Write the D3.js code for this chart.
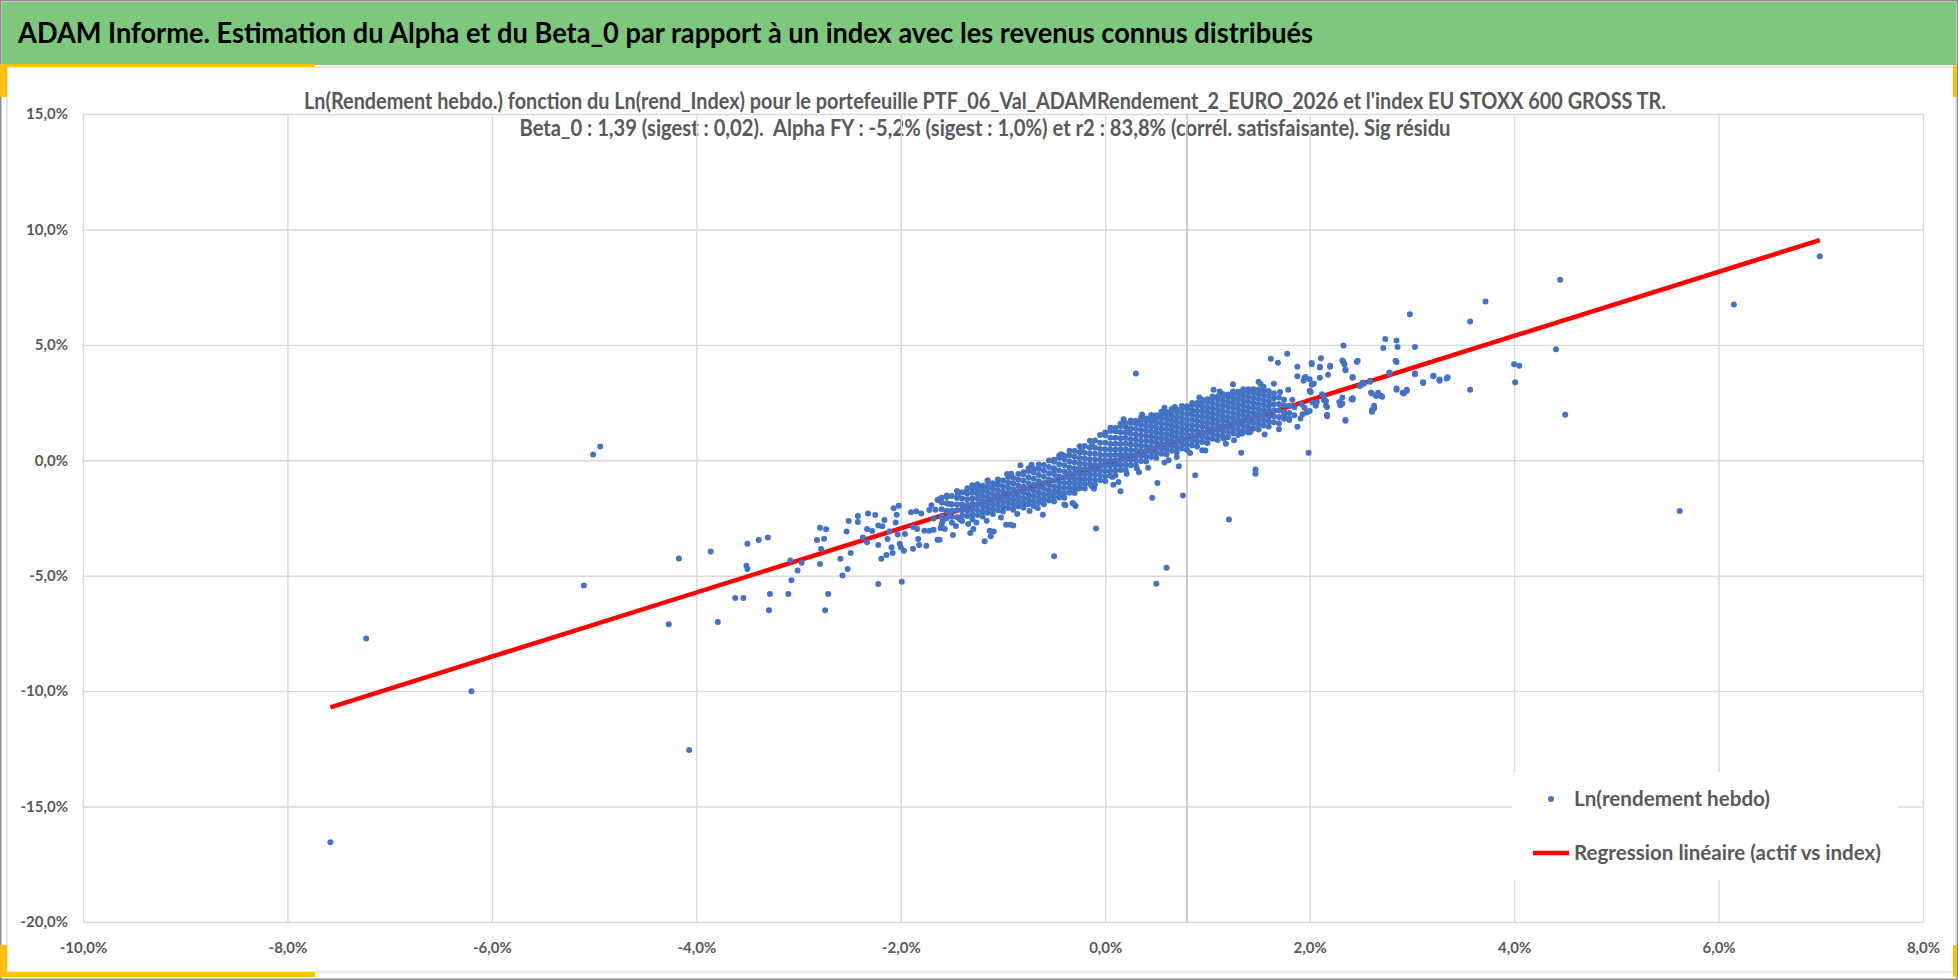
<!DOCTYPE html>
<html>
<head>
<meta charset="utf-8">
<script src="https://cdn.jsdelivr.net/npm/d3@7"></script>
<style>
  body { margin: 0; background: #fff; }
  svg { display: block; }
  text { font-family: Lato, "Open Sans", sans-serif; white-space: pre; }
</style>
</head>
<body>
<svg id="chart"></svg>
<script>
const width = 1958;
const height = 980;

const mainTitle = "ADAM Informe. Estimation du Alpha et du Beta_0 par rapport à un index avec les revenus connus distribués";
const chartTitle = [
  "Ln(Rendement hebdo.) fonction du Ln(rend_Index) pour le portefeuille PTF_06_Val_ADAMRendement_2_EURO_2026 et l'index EU STOXX 600 GROSS TR.",
  "Beta_0 : 1,39 (sigest : 0,02).  Alpha FY : -5,2% (sigest : 1,0%) et r2 : 83,8% (corrél. satisfaisante). Sig résidu"
];
const legendLabels = ["Ln(rendement hebdo)", "Regression linéaire (actif vs index)"];

const xTicks = [-10, -8, -6, -4, -2, 0, 2, 4, 6, 8];
const yTicks = [-20, -15, -10, -5, 0, 5, 10, 15];
const axisCross = 0.8;

// regression line ends (x %, y %)
const regression = [[-7.58, -10.7], [6.99, 9.54]];

// isolated weeks
const outliers = [
  [-7.58,-16.55],[-7.23,-7.72],[-6.2,-10.0],[-5.01,0.25],[-4.94,0.6],[-5.1,-5.42],
  [-4.07,-12.55],[-4.17,-4.25],[-4.27,-7.1],[6.99,8.84],[6.15,6.75],[5.62,-2.2],
  [4.45,7.82],[4.41,4.81],[4.5,1.97],[0.5,-5.35],[0.6,-4.65],[0.3,3.76]
];

// scattered weeks, lower left part
const scatterLow = [
  [-3.86,-3.95],[-3.79,-7.01],[-3.5,-3.61],[-3.39,-3.45],[-3.3,-3.35],[-3.51,-4.57],[-3.5,-4.71],
  [-3.62,-5.97],[-3.54,-5.97],[-3.28,-5.79],[-3.29,-6.5],[-3.1,-5.79],[-3.07,-5.2],[-3.01,-4.77],
  [-3.08,-4.34],[-2.97,-4.44],[-2.79,-4.49],[-2.78,-3.84],[-2.82,-3.45],[-2.75,-3.4],[-2.79,-2.92],
  [-2.73,-2.99],[-2.74,-6.5],[-2.71,-5.79],[-2.59,-4.26],[-2.57,-4.99],[-2.52,-4.71],[-2.49,-4.02],
  [-2.53,-3.08],[-2.51,-2.63],[-2.42,-2.41],[-2.42,-2.67],[-2.32,-2.31],[-2.25,-2.37],[-2.37,-3.34],
  [-2.33,-3.55],[-2.33,-2.98],[-2.28,-3.06],[-2.22,-2.83],[-2.18,-2.86],[-2.16,-2.59],[-2.22,-3.67],
  [-2.19,-4.26],[-2.14,-4.1],[-2.22,-5.36],[-1.99,-5.26],[-2.13,-3.41],[-2.11,-3.08],[-2.09,-3.77],
  [-2.08,-4.02],[-2.07,-2.08],[-2.02,-1.97],[-2.04,-2.36],[-2.05,-2.7],[-2.03,-3.22],[-2.01,-3.61],
  [-2.0,-3.77],[-1.96,-3.19],[-1.97,-3.92],[-1.88,-3.83],[-1.9,-2.25],[-1.85,-2.21],[-1.88,-2.89],
  [-1.84,-2.98],[-1.83,-3.41],[-1.82,-3.67],[-1.8,-2.3],[-1.77,-3.05],[-1.75,-3.7],[-1.72,-2.15],
  [-1.72,-3.05],[-1.68,-3.01],[-1.66,-2.14],[-1.64,-3.44],[-1.62,-3.44],[-1.61,-2.93],[-1.6,-2.46],
  [-1.59,-2.64],[-1.64,-1.72],[-1.62,-1.68],[-1.55,-1.53],[-1.53,-1.89],[-1.53,-2.25],[-1.49,-3.24],
  [-1.44,-1.47],[-1.42,-2.57],[-1.39,-2.07],[-1.36,-1.39],[-1.32,-3.15],[-1.29,-2.98],[-1.18,-3.51],
  [-1.12,-3.29],[-1.09,-3.08],[-1.13,-3.05],[-1.24,-1.34],[-1.19,-1.2],[-1.1,-1.03],[-1.05,-1.03],
  [-0.96,-0.59],[-0.83,-0.22],[-0.97,-2.79],[-0.93,-2.79],[-0.9,-2.82],[-0.61,-2.36],[-0.5,-4.16],
  [-0.43,0.26],[-0.4,-1.92],[-0.32,-1.85],[-0.09,-2.96],[-1.7,-1.95],[-1.68,-2.52],[-1.57,-2.98],
  [-1.46,-2.85],[-1.34,-2.76],[-1.26,-2.7],[-1.16,-2.62],[-1.02,-2.48],[-0.86,-2.33],[-0.74,-2.2],
  [-0.66,-2.07],[-1.3,-1.08],[-1.15,-0.86],[-0.92,-0.58],[-0.72,-0.19]
];

// scattered weeks around the centre
const scatterMid = [
  [1.21,-2.56],[1.47,-0.4],[1.47,-0.58],[1.33,0.33],[0.88,-0.65],[0.76,-1.52],[0.46,-1.62],
  [0.51,-0.98],[0.72,-0.26],[0.15,-1.34],[0.42,-0.32],[1.06,3.06],[1.25,3.29],[1.69,4.22],
  [1.88,4.05],[2.02,4.16],[2.1,4.02],[2.2,4.05],[2.33,4.26],[2.35,3.9],[2.46,4.26],[2.85,4.26],
  [2.42,3.57],[2.78,3.76],[3.03,3.73],[3.21,3.64],[3.27,3.44],[3.34,3.54],[3.11,3.35],[2.85,3.06],
  [2.95,3.0],[2.92,2.89],[2.59,3.4],[2.5,3.25],[2.53,3.32],[2.61,2.89],[2.68,2.82],[2.71,2.75],
  [2.63,2.24],[2.61,2.1],[2.42,2.63],[2.35,1.71],[2.32,2.46],[2.17,1.91],[2.17,2.31],[2.14,2.6],
  [2.07,2.53],[2.04,3.32],[1.88,3.64],[1.94,3.44],[1.96,3.61],[2.01,2.96],[1.88,1.45],[1.91,1.81],
  [1.8,1.81],[1.75,1.95],[1.71,2.96],[1.65,3.32],[1.55,3.18],[1.5,3.4],[1.45,2.96],[1.35,2.82],
  [1.31,2.89],[1.26,2.67],[1.42,1.23],[1.34,1.16],[1.26,0.87],[1.16,0.94],[1.15,1.73],[0.95,0.43],
  [0.83,0.32],[0.7,0.14],[0.62,0.0],[0.69,2.17],[0.68,2.31],[0.85,2.1],[0.46,1.73],[0.21,1.23],
  [-0.13,0.65],[-0.23,0.43],[-0.42,0.22],[-0.5,-0.43],[-0.39,-1.95],[-0.31,-1.88],[-0.29,-1.98],
  [-0.41,-1.59],[-0.28,-1.23],[-0.13,-1.13],[-0.11,-1.23],[0.13,-0.94],[0.07,-0.72],[0.21,-0.58],
  [0.31,-0.36],[-0.54,-1.52],[-0.49,-1.37],[1.62,4.4],[1.78,4.62],[1.83,2.62],[1.79,3.05],
  [0.18,1.78],[0.36,1.98],[0.58,2.28],[0.92,2.72],[1.12,2.98],[1.52,3.3],[0.08,-1.06],[0.33,-0.52],
  [0.58,-0.1],[0.98,0.42],[1.18,0.72],[1.56,1.12],[1.7,1.34]
];

// scattered weeks, upper right part
const scatterHigh = [
  [2.98,6.33],[3.72,6.88],[3.57,6.01],[4.0,4.16],[4.05,4.09],[4.01,3.38],[3.57,3.05],[3.35,3.6],
  [3.27,3.5],[3.21,3.66],[3.11,3.38],[3.03,3.76],[3.03,4.91],[2.86,4.91],[2.85,5.19],[2.74,5.25],
  [2.72,4.86],[2.84,4.31],[2.78,3.8],[2.85,3.11],[2.91,2.93],[2.95,3.05],[2.33,4.97],[2.47,4.31],
  [2.32,4.32],[2.35,3.93],[2.34,4.16],[2.2,4.09],[2.11,4.42],[2.1,4.05],[2.02,4.21],[2.18,3.71],
  [2.1,3.57],[1.95,3.58],[2.0,3.51],[2.02,3.27],[2.42,3.61],[2.59,3.44],[2.52,3.37],[2.49,3.22],
  [2.6,2.93],[2.67,2.93],[2.7,2.79],[2.65,2.79],[2.63,2.36],[2.61,2.18],[2.41,2.64],[2.42,2.69],
  [2.32,2.72],[2.3,2.38],[2.29,2.53],[2.35,1.75],[2.17,1.97],[2.16,2.36],[2.16,2.57],[2.12,2.86],
  [2.14,2.76],[2.06,2.36],[2.03,2.5],[2.0,3.01],[2.0,2.14],[1.97,2.07],[1.99,0.33],[1.95,2.28],
  [1.93,1.99],[1.92,2.43]
];

// the dense body of the cloud, one column of weeks per index return
const coreColumns = [
  [-1.60, [-2.76,-2.41,-2.12,-1.83,-1.62]],
  [-1.55, [-2.51,-2.19,-1.86,-1.59]],
  [-1.50, [-2.71,-2.45,-2.18,-1.9,-1.55]],
  [-1.45, [-2.47,-2.16,-1.91,-1.63,-1.33]],
  [-1.40, [-2.63,-2.4,-2.16,-1.92,-1.66,-1.38]],
  [-1.35, [-2.41,-2.19,-1.94,-1.69,-1.44,-1.21]],
  [-1.30, [-2.57,-2.35,-2.12,-1.88,-1.64,-1.41,-1.22]],
  [-1.25, [-2.37,-2.15,-1.91,-1.67,-1.45,-1.22,-1.04]],
  [-1.20, [-2.44,-2.22,-1.99,-1.77,-1.55,-1.32,-1.1]],
  [-1.15, [-2.27,-2.06,-1.84,-1.61,-1.39,-1.16,-0.93]],
  [-1.10, [-2.33,-2.12,-1.9,-1.68,-1.46,-1.22,-0.99]],
  [-1.05, [-2.16,-1.95,-1.74,-1.52,-1.3,-1.07,-0.83]],
  [-1.00, [-2.22,-2.01,-1.8,-1.58,-1.36,-1.12,-0.88]],
  [-0.95, [-2.07,-1.86,-1.65,-1.42,-1.19,-0.96,-0.72]],
  [-0.90, [-2.14,-1.93,-1.71,-1.48,-1.25,-1.01,-0.77]],
  [-0.85, [-1.99,-1.78,-1.56,-1.33,-1.09,-0.84,-0.59]],
  [-0.80, [-2.05,-1.85,-1.63,-1.4,-1.15,-0.89,-0.62,-0.52]],
  [-0.75, [-1.9,-1.7,-1.48,-1.24,-0.99,-0.73,-0.46,-0.34]],
  [-0.70, [-1.98,-1.77,-1.55,-1.31,-1.06,-0.8,-0.53,-0.37]],
  [-0.65, [-1.83,-1.62,-1.4,-1.16,-0.91,-0.64,-0.38,-0.18]],
  [-0.60, [-1.9,-1.69,-1.47,-1.23,-0.98,-0.71,-0.45,-0.2]],
  [-0.55, [-1.74,-1.53,-1.31,-1.07,-0.82,-0.56,-0.29,-0.01]],
  [-0.50, [-1.79,-1.58,-1.36,-1.12,-0.87,-0.61,-0.34,-0.06,0.02]],
  [-0.45, [-1.61,-1.4,-1.18,-0.95,-0.7,-0.44,-0.17,0.11,0.21]],
  [-0.40, [-1.62,-1.42,-1.2,-0.98,-0.74,-0.49,-0.22,0.05,0.2]],
  [-0.35, [-1.41,-1.21,-1.0,-0.78,-0.55,-0.31,-0.05,0.21,0.41]],
  [-0.30, [-1.42,-1.22,-1.01,-0.8,-0.57,-0.34,-0.09,0.16,0.4]],
  [-0.25, [-1.21,-1.01,-0.8,-0.59,-0.37,-0.14,0.1,0.35,0.61]],
  [-0.20, [-1.22,-1.02,-0.81,-0.6,-0.38,-0.16,0.08,0.33,0.62]],
  [-0.15, [-1.03,-0.82,-0.61,-0.4,-0.18,0.05,0.29,0.54,0.85]],
  [-0.10, [-1.06,-0.85,-0.63,-0.42,-0.2,0.03,0.28,0.54,0.86]],
  [-0.05, [-0.87,-0.66,-0.44,-0.22,0.01,0.24,0.49,0.76,1.09]],
  [0.00, [-0.9,-0.68,-0.46,-0.24,-0.01,0.23,0.48,0.76,1.08,1.2]],
  [0.05, [-0.67,-0.45,-0.23,-0.01,0.22,0.46,0.71,0.98,1.27,1.41]],
  [0.10, [-0.66,-0.44,-0.22,0.0,0.23,0.47,0.72,0.98,1.26,1.4]],
  [0.15, [-0.42,-0.2,0.02,0.24,0.47,0.71,0.95,1.21,1.47,1.58]],
  [0.20, [-0.41,-0.19,0.03,0.25,0.48,0.72,0.96,1.2,1.45,1.6]],
  [0.25, [-0.21,0.01,0.23,0.45,0.68,0.91,1.15,1.39,1.63,1.72]],
  [0.30, [-0.23,-0.01,0.21,0.43,0.66,0.89,1.12,1.36,1.58,1.71]],
  [0.35, [-0.03,0.19,0.41,0.63,0.85,1.08,1.31,1.54,1.75,1.84]],
  [0.40, [-0.05,0.17,0.39,0.61,0.83,1.05,1.28,1.5,1.7,1.81]],
  [0.45, [0.14,0.36,0.58,0.8,1.02,1.24,1.46,1.68,1.88,1.96]],
  [0.50, [0.1,0.32,0.54,0.76,0.98,1.2,1.42,1.64,1.84,1.95]],
  [0.55, [0.28,0.5,0.72,0.94,1.16,1.38,1.6,1.82,2.02,2.1]],
  [0.60, [0.25,0.47,0.69,0.91,1.13,1.35,1.57,1.79,1.98,2.08]],
  [0.65, [0.41,0.63,0.85,1.07,1.29,1.51,1.73,1.95,2.15,2.22]],
  [0.70, [0.35,0.57,0.79,1.01,1.23,1.45,1.67,1.89,2.1,2.2]],
  [0.75, [0.51,0.73,0.95,1.17,1.39,1.61,1.83,2.05,2.27,2.35]],
  [0.80, [0.45,0.67,0.89,1.11,1.33,1.55,1.77,1.99,2.22,2.34]],
  [0.85, [0.64,0.86,1.08,1.3,1.52,1.74,1.96,2.18,2.4,2.48]],
  [0.90, [0.6,0.82,1.04,1.26,1.48,1.7,1.92,2.14,2.36,2.48]],
  [0.95, [0.79,1.01,1.23,1.45,1.67,1.89,2.11,2.33,2.55,2.62]],
  [1.00, [0.75,0.97,1.19,1.41,1.63,1.85,2.07,2.29,2.51,2.64]],
  [1.05, [0.93,1.15,1.37,1.59,1.81,2.03,2.25,2.47,2.69,2.76]],
  [1.10, [0.88,1.1,1.32,1.54,1.76,1.98,2.2,2.42,2.64,2.76]],
  [1.15, [1.05,1.27,1.49,1.71,1.93,2.15,2.37,2.59,2.81,2.87]],
  [1.20, [1.0,1.22,1.44,1.66,1.88,2.1,2.32,2.54,2.76,2.85]],
  [1.25, [1.16,1.38,1.6,1.82,2.04,2.26,2.48,2.7,2.92,2.98]],
  [1.30, [1.1,1.32,1.54,1.76,1.98,2.2,2.42,2.64,2.86,2.97]],
  [1.35, [1.26,1.48,1.7,1.92,2.14,2.36,2.58,2.8,3.02,3.08]],
  [1.40, [1.2,1.42,1.64,1.86,2.08,2.3,2.52,2.74,2.96,3.08]],
  [1.45, [1.38,1.6,1.82,2.04,2.26,2.48,2.7,2.92,3.08]],
  [1.50, [1.33,1.55,1.77,1.99,2.21,2.43,2.65,2.87,3.05]],
  [1.55, [1.51,1.73,1.95,2.17,2.39,2.61,2.83,3.02]],
  [1.60, [1.46,1.68,1.9,2.12,2.34,2.56,2.78,3.0]],
  [1.65, [1.65,1.91,2.17,2.43,2.69,2.9]],
  [1.70, [1.6,1.88,2.16,2.44,2.72]],
  [1.75, [1.8,2.09,2.38,2.62]],
  [1.80, [1.74,2.05,2.36]],
  [1.85, [1.95,2.3]]
];

const coreBody = coreColumns.flatMap(([xv, ys]) => ys.map(yv => [xv, yv]));
const points = [...coreBody, ...scatterLow, ...scatterMid, ...scatterHigh, ...outliers];

const margin = { left: 83, right: 1923, top: 114, bottom: 922 };

const svg = d3.select("#chart")
  .attr("width", width)
  .attr("height", height);

// frame: outer border, title band, chart area and yellow corners
svg.append("rect")
  .attr("x", 0.75).attr("y", 0.75)
  .attr("width", width - 1.5).attr("height", height - 1.5)
  .attr("fill", "#fff").attr("stroke", "#8c8c8c").attr("stroke-width", 1.5);

svg.append("rect")
  .attr("x", 2).attr("y", 2)
  .attr("width", width - 4).attr("height", 63)
  .attr("fill", "#7ec87e");

svg.append("rect")
  .attr("x", 7).attr("y", 67)
  .attr("width", width - 9).attr("height", 905)
  .attr("fill", "#fff").attr("stroke", "#d9d9d9").attr("stroke-width", 1.2);

const corners = [
  [0, 64, 315, 3], [0, 64, 7, 33],
  [0, 972, 315, 5], [0, 945, 7, 32],
  [width - 5, 65, 4, 32], [width - 5, 945, 4, 32]
];
svg.append("g").selectAll("rect")
  .data(corners)
  .join("rect")
  .attr("x", d => d[0]).attr("y", d => d[1])
  .attr("width", d => d[2]).attr("height", d => d[3])
  .attr("fill", "#ffc000");

svg.append("text")
  .attr("x", 18).attr("y", 43)
  .attr("font-size", 29).attr("font-weight", "bold")
  .attr("fill", "#000")
  .attr("textLength", 1295).attr("lengthAdjust", "spacingAndGlyphs")
  .text(mainTitle);

const titleWidths = [1362, 931];
svg.append("g").selectAll("text")
  .data(chartTitle)
  .join("text")
  .attr("x", 985)
  .attr("y", (d, i) => 109 + i * 27)
  .attr("text-anchor", "middle")
  .attr("font-size", 22).attr("font-weight", "bold")
  .attr("fill", "#595959")
  .attr("textLength", (d, i) => titleWidths[i]).attr("lengthAdjust", "spacingAndGlyphs")
  .text(d => d);

const x = d3.scaleLinear().domain([-10, 8]).range([margin.left, margin.right]);
const y = d3.scaleLinear().domain([-20, 15]).range([margin.bottom, margin.top]);
const fmt = d => d.toFixed(1).replace(".", ",") + "%";

const xAxis = d3.axisBottom(x)
  .tickValues(xTicks)
  .tickSize(-(margin.bottom - margin.top))
  .tickPadding(20)
  .tickFormat(fmt);

const yAxis = d3.axisLeft(y)
  .tickValues(yTicks)
  .tickSize(-(margin.right - margin.left))
  .tickPadding(15)
  .tickFormat(fmt);

const gx = svg.append("g")
  .attr("transform", `translate(0, ${margin.bottom})`)
  .call(xAxis);

const gy = svg.append("g")
  .attr("transform", `translate(${margin.left}, 0)`)
  .call(yAxis);

[gx, gy].forEach(g => {
  g.select(".domain").remove();
  g.selectAll(".tick line").attr("stroke", "#d9d9d9").attr("stroke-width", 1.4);
  g.selectAll(".tick text")
    .attr("fill", "#595959")
    .attr("font-size", 15)
    .attr("font-weight", "bold")
    .attr("font-family", "Lato, sans-serif");
});

// vertical axis line crossing at 0.8 %
svg.append("line")
  .attr("x1", x(axisCross)).attr("x2", x(axisCross))
  .attr("y1", margin.top).attr("y2", margin.bottom)
  .attr("stroke", "#bfbfbf").attr("stroke-width", 1.5);

svg.append("path")
  .datum(regression)
  .attr("fill", "none")
  .attr("stroke", "#ff0000")
  .attr("stroke-width", 4.5)
  .attr("d", d3.line().x(d => x(d[0])).y(d => y(d[1])));

svg.append("g").selectAll("circle")
  .data(points)
  .join("circle")
  .attr("cx", d => x(d[0]))
  .attr("cy", d => y(d[1]))
  .attr("r", 3)
  .attr("fill", "#4472c4");

// legend
const legend = svg.append("g");
legend.append("rect")
  .attr("x", 1512).attr("y", 772)
  .attr("width", 386).attr("height", 108)
  .attr("fill", "#fff");

legend.append("circle")
  .attr("cx", 1551).attr("cy", 799).attr("r", 3)
  .attr("fill", "#4472c4");

legend.append("line")
  .attr("x1", 1533).attr("x2", 1569)
  .attr("y1", 853).attr("y2", 853)
  .attr("stroke", "#ff0000").attr("stroke-width", 4.5);

const legendWidths = [196, 307];
legend.selectAll("text")
  .data(legendLabels)
  .join("text")
  .attr("x", 1574)
  .attr("y", (d, i) => 806 + i * 54)
  .attr("font-size", 21).attr("font-weight", "bold")
  .attr("fill", "#595959")
  .attr("textLength", (d, i) => legendWidths[i]).attr("lengthAdjust", "spacingAndGlyphs")
  .text(d => d);
</script>
</body>
</html>
